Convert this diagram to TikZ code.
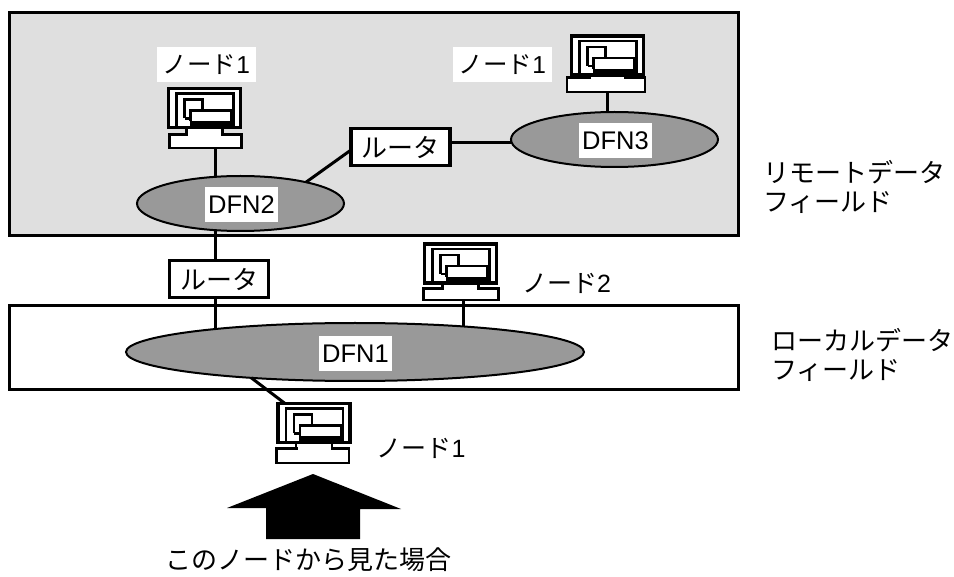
\documentclass[tikz,border=0pt]{standalone}
\usepackage{fontspec}
\setmainfont{Liberation Sans}
\newfontfamily\jpf{Noto Sans CJK JP}
\usetikzlibrary{shapes.geometric,calc}
\definecolor{fieldgray}{HTML}{DFDFDF}
\definecolor{netgray}{HTML}{999999}
\newcommand{\jp}[1]{{\jpf #1}}
\newcommand{\pcicon}[7]{% name, monitor x,y, base x1,y1,x2,y2
  \node[pcshape,line width=2.4pt,minimum width={#6-#4},minimum height={#7-#5}] (#1) at ({(#4+#6)/2},{(#5+#7)/2}) {};
  \fill[white] (#2+19.5,#3+37) rectangle (#2+52.5,#5+1.2);
  \draw[pcline] (#2+18,#3+39) -- (#2+18,#5) -- (#4,#5);
  \draw[pcline] (#2+54,#3+39) -- (#2+54,#5) -- (#6,#5);
  \node[pcshape,line width=3.2pt,minimum width=72pt,minimum height=39pt] (#1m) at (#2+36,#3+19.5) {};
  \draw[pcline] (#2+8,#3+39) -- (#2+8,#3+5) -- (#2+65,#3+5) -- (#2+65,#3+39);
  \draw[pcline] (#2+16,#3+30) -- (#2+16,#3+11) -- (#2+34,#3+11) -- (#2+34,#3+22);
  \draw[pcline] (#2+16,#3+30) -- (#2+22,#3+30);
  \draw[pcline,fill=white] (#2+22,#3+33) -- (#2+22,#3+22) -- (#2+63,#3+22) -- (#2+63,#3+33);
  \fill (#2+21,#3+33) rectangle (#2+66,#3+39);
}
\tikzset{
  x=1pt,y=-1pt,
  field/.style={line width=3pt,draw=black},
  net/.style={ellipse,draw=black,fill=netgray,line width=2pt,inner sep=0pt,outer sep=0pt},
  link/.style={line width=3pt,draw=black},
  router/.style={rectangle,draw=black,fill=white,line width=3.2pt,inner sep=0pt,outer sep=0pt,minimum width=99pt,minimum height=37pt,font=\fontsize{26}{30}\selectfont\jpf},
  tag/.style={rectangle,fill=white,inner sep=0pt,outer sep=0pt,minimum width=99pt,minimum height=35pt,font=\fontsize{24.5}{28}\selectfont},
  dfn/.style={rectangle,fill=white,inner sep=0pt,outer sep=0pt,minimum width=73pt,minimum height=35pt,font=\fontsize{25.5}{28}\selectfont},
  plain/.style={inner sep=0pt,outer sep=0pt,font=\fontsize{25}{28}\selectfont},
  side/.style={inner sep=0pt,outer sep=0pt,anchor=west,align=left,font=\fontsize{26}{29}\selectfont\jpf},
  pcshape/.style={rectangle,draw=black,fill=white,inner sep=0pt,outer sep=0pt},
  pcline/.style={line width=2.4pt,draw=black}
}
\begin{document}
\begin{tikzpicture}
\useasboundingbox (0,0) rectangle (954,577);
% fields
\node[rectangle,field,fill=fieldgray,inner sep=0pt,minimum width=729pt,minimum height=223pt] (remote) at (373.5,124.5) {};
\node[rectangle,field,fill=white,inner sep=0pt,minimum width=729pt,minimum height=84pt] (local) at (373.5,347.5) {};
% networks and routers as nodes (connectors below use their names)
\node[net,minimum width=207pt,minimum height=55pt] (dfn2) at (240.5,203.5) {};
\node[net,minimum width=207pt,minimum height=55pt] (dfn3) at (614.5,139.5) {};
\node[net,minimum width=458pt,minimum height=58pt] (dfn1) at (355,352) {};
\node[router] (r1) at (400.5,147) {ルータ};
\node[router] (r2) at (219,279) {ルータ};
% computers
\pcicon{pcA}{168.5}{88.5}{169.5}{134.5}{241.5}{148}
\pcicon{pcB}{571.5}{36}{567}{77.5}{645}{92}
\pcicon{pcC}{424.5}{244}{423.5}{288.5}{498.5}{300}
\pcicon{pcD}{278}{403.5}{276.5}{448.5}{349}{463}
% connectors
\coordinate (pa) at ([xshift=10.3pt]pcA.south);
\coordinate (pb) at ([xshift=1.7pt]pcB.south);
\coordinate (pc) at ([xshift=2pt]pcC.south);
\coordinate (r1e) at ([yshift=4pt]r1.east);
\coordinate (r1w) at ([yshift=-3pt]r1.west);
\coordinate (pdt) at ($(pcDm.north west)+(7,0)$);
\draw[link] (pa) -- (pa |- dfn2.north);
\draw[link] (dfn2.south -| pa) -- (r2.north -| pa);
\draw[link] (r2.south -| pa) -- ($(pa |- dfn1.north)+(0,6)$);
\draw[link] (pb) -- (pb |- dfn3.north);
\draw[link] (pc) -- ($(pc |- dfn1.north)+(0,4)$);
\draw[link] (r1e) -- (r1e -| dfn3.west);
\draw[link] (r1w) -- (dfn2.18.4);
\draw[link] (dfn1.194.9) -- (pdt);
% labels
\node[dfn] (l2) at (241.5,204.5) {DFN2\hspace{4pt}};
\node[dfn] (l3) at (615.5,140.5) {DFN3\hspace{4pt}};
\node[dfn] (l1) at (355.5,353.5) {DFN1\hspace{4pt}};
\node[tag] (t1) at (206.5,64.5) {\jp{ノード}1};
\node[tag] (t2) at (502.5,64.5) {\jp{ノード}1};
\node[plain] (t3) at (566.5,283) {\jp{ノード}2};
\node[plain] (t4) at (421,448.5) {\jp{ノード}1};
\node[side] (s1) at (763,186.5) {リモートデータ\\フィールド};
\node[side] (s2) at (771,355) {ローカルデータ\\フィールド};
% arrow
\fill (313,474) -- (401,509) -- (360,509) -- (360,539) -- (266,539) -- (266,508) -- (227,508) -- cycle;
\node[inner sep=0pt,outer sep=0pt,font=\fontsize{26}{30}\selectfont\jpf] (cap) at (308,560) {このノードから見た場合};
\end{tikzpicture}
\end{document}
